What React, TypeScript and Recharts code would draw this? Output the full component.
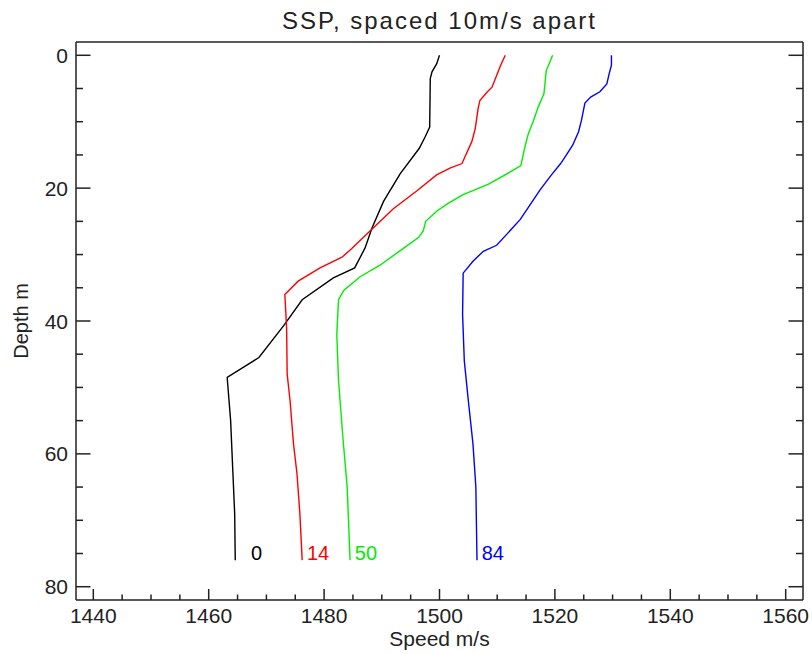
import React from 'react';
import { LineChart, Line, XAxis, YAxis, LabelList, Label } from 'recharts';

// sound speed profiles (depth in m, speed in m/s)
const depth0 = [0, 1.3, 2.5, 3.5, 10.8, 12.3, 14, 17.8, 22, 26, 29, 32, 33.5, 36.8, 40.7, 45.5, 48.5, 55, 63, 69, 76];
const speed0 = [1500, 1499.5, 1498.7, 1498.4, 1498.3, 1497.5, 1496.5, 1493.2, 1490.3, 1488.3, 1487.1, 1485.3, 1481.6, 1476.2, 1473, 1468.7, 1463.2, 1463.8, 1464.2, 1464.5, 1464.6];

const depth14 = [0, 1.5, 2.8, 4.8, 5.5, 6.8, 8, 11, 13, 15.3, 16.3, 17, 18, 20.4, 23.1, 26.4, 29.1, 30.4, 32, 34, 36, 41, 48, 52, 58.5, 63, 69, 76];
const speed14 = [1511.4, 1510.6, 1510, 1509.1, 1508.3, 1507, 1506.7, 1506.2, 1505.6, 1504.4, 1503.9, 1501.8, 1499.5, 1496.1, 1492, 1488, 1484.8, 1483.1, 1479.3, 1475.5, 1473.2, 1473.5, 1473.6, 1474.1, 1474.7, 1475.3, 1475.8, 1476.2];

const depth50 = [0, 1.5, 2.3, 5.8, 7.8, 9.8, 11.8, 13.8, 16.6, 17.6, 19.4, 21, 22.3, 23.4, 25, 26.4, 27.4, 29.4, 31.6, 33.3, 35.4, 36.8, 42, 49, 58, 65, 76];
const speed50 = [1519.6, 1518.9, 1518.5, 1518.1, 1517.1, 1516.3, 1515.4, 1514.8, 1514.1, 1512.2, 1508.5, 1504, 1501.5, 1499.6, 1497.6, 1497.2, 1496.4, 1493.2, 1489.7, 1486.3, 1483.4, 1482.5, 1482.2, 1482.5, 1483.3, 1484, 1484.5];

const depth84 = [0, 1.5, 2.8, 4.3, 5.5, 6.3, 7.2, 9.8, 11.5, 13.5, 15, 16.3, 18, 20.3, 22.9, 24.7, 27, 28.6, 29.5, 31, 32.8, 39, 46, 52, 58.5, 65, 76];
const speed84 = [1529.8, 1529.8, 1529.4, 1529, 1527.8, 1526.2, 1525.2, 1524.6, 1524.1, 1523.1, 1522, 1521, 1519.4, 1517.4, 1515.4, 1514, 1511.6, 1509.9, 1507.6, 1505.8, 1504.1, 1504, 1504.3, 1505, 1505.8, 1506.3, 1506.5];

const profileNames = ['0', '14', '50', '84'];
const profileColors = ['#000000', '#ff0000', '#00ee00', '#0000ff'];

const speedTicks = [1440, 1445, 1450, 1455, 1460, 1465, 1470, 1475, 1480, 1485, 1490, 1495, 1500, 1505, 1510, 1515, 1520, 1525, 1530, 1535, 1540, 1545, 1550, 1555, 1560];
const depthTicks = [0, 5, 10, 15, 20, 25, 30, 35, 40, 45, 50, 55, 60, 65, 70, 75, 80];

const toPoints = (d: number[], s: number[]) => d.map((depth, i) => ({ depth, speed: s[i] }));

const profiles = [
  toPoints(depth0, speed0),
  toPoints(depth14, speed14),
  toPoints(depth50, speed50),
  toPoints(depth84, speed84),
];

const INK = '#222';
const FONT = '"Liberation Sans", Arial, sans-serif';

const BottomTick = (props: any) => {
  const { x, y, payload } = props;
  const major = payload.value % 20 === 0;
  return (
    <g>
      <line x1={x} x2={x} y1={y} y2={y - (major ? 11 : 5.5)} stroke={INK} strokeWidth={1.5} />
      {major && (
        <text x={x} y={y + 23} textAnchor="middle" fill={INK} fontSize={21} fontFamily={FONT}>
          {payload.value}
        </text>
      )}
    </g>
  );
};

const TopTick = (props: any) => {
  const { x, y, payload } = props;
  const major = payload.value % 20 === 0;
  return <line x1={x} x2={x} y1={y} y2={y + (major ? 11 : 5.5)} stroke={INK} strokeWidth={1.5} />;
};

const LeftTick = (props: any) => {
  const { x, y, payload } = props;
  const major = payload.value % 20 === 0;
  return (
    <g>
      <line x1={x} x2={x + (major ? 14.5 : 7)} y1={y} y2={y} stroke={INK} strokeWidth={1.5} />
      {major && (
        <text x={x - 8} y={y + 7.5} textAnchor="end" fill={INK} fontSize={21} fontFamily={FONT}>
          {payload.value}
        </text>
      )}
    </g>
  );
};

const RightTick = (props: any) => {
  const { x, y, payload } = props;
  const major = payload.value % 20 === 0;
  return <line x1={x} x2={x - (major ? 14.5 : 7)} y1={y} y2={y} stroke={INK} strokeWidth={1.5} />;
};

// name printed right-aligned just past the deepest point of each profile
const endLabel = (idx: number) => (p: any) => {
  if (p.index !== profiles[idx].length - 1) return null;
  return (
    <text x={p.x + 27} y={p.y} textAnchor="end" fill={profileColors[idx]} fontSize={20} fontFamily={FONT}>
      {profileNames[idx]}
    </text>
  );
};

export default function App() {
  return (
    <div style={{ position: 'absolute', left: 0, top: 0, width: 812, height: 654, background: '#fff' }}>
      <div
        style={{
          position: 'absolute',
          left: 0,
          top: 8,
          width: 879,
          textAlign: 'center',
          fontFamily: FONT,
          fontSize: 24,
          lineHeight: '26px',
          letterSpacing: 2,
          color: INK,
        }}
      >
        SSP, spaced 10m/s apart
      </div>
      <LineChart width={812} height={654} margin={{ top: 22, right: 0, bottom: 14, left: 16 }}>
        <XAxis
          type="number"
          dataKey="speed"
          domain={[1437, 1563]}
          allowDataOverflow
          ticks={speedTicks}
          interval={0}
          tickSize={0}
          tickMargin={0}
          tickLine={false}
          tick={<BottomTick />}
          height={40}
          axisLine={{ stroke: INK, strokeWidth: 1.5 }}
        >
          <Label
            value="Speed m/s"
            position="insideBottom"
            offset={-6}
            style={{ fontFamily: FONT, fontSize: 21, fill: INK }}
          />
        </XAxis>
        <XAxis
          xAxisId="top"
          orientation="top"
          type="number"
          domain={[1437, 1563]}
          allowDataOverflow
          ticks={speedTicks}
          interval={0}
          tickSize={0}
          tickMargin={0}
          tickLine={false}
          tick={<TopTick />}
          height={20}
          axisLine={{ stroke: INK, strokeWidth: 1.5 }}
        />
        <YAxis
          type="number"
          dataKey="depth"
          domain={[-2, 82]}
          allowDataOverflow
          reversed
          ticks={depthTicks}
          interval={0}
          tickSize={0}
          tickMargin={0}
          tickLine={false}
          tick={<LeftTick />}
          width={60}
          axisLine={{ stroke: INK, strokeWidth: 1.5 }}
        >
          <Label
            value="Depth m"
            angle={-90}
            position="insideLeft"
            offset={5}
            style={{ fontFamily: FONT, fontSize: 20, fill: INK, textAnchor: 'middle' }}
          />
        </YAxis>
        <YAxis
          yAxisId="right"
          orientation="right"
          type="number"
          domain={[-2, 82]}
          allowDataOverflow
          reversed
          ticks={depthTicks}
          interval={0}
          tickSize={0}
          tickMargin={0}
          tickLine={false}
          tick={<RightTick />}
          width={9}
          axisLine={{ stroke: INK, strokeWidth: 1.5 }}
        />
        {profiles.map((pts, i) => (
          <Line
            key={profileNames[i]}
            data={pts}
            dataKey="depth"
            type="linear"
            stroke={profileColors[i]}
            strokeWidth={1.4}
            dot={false}
            activeDot={false}
            isAnimationActive={false}
          >
            <LabelList dataKey="depth" content={endLabel(i)} />
          </Line>
        ))}
      </LineChart>
    </div>
  );
}
